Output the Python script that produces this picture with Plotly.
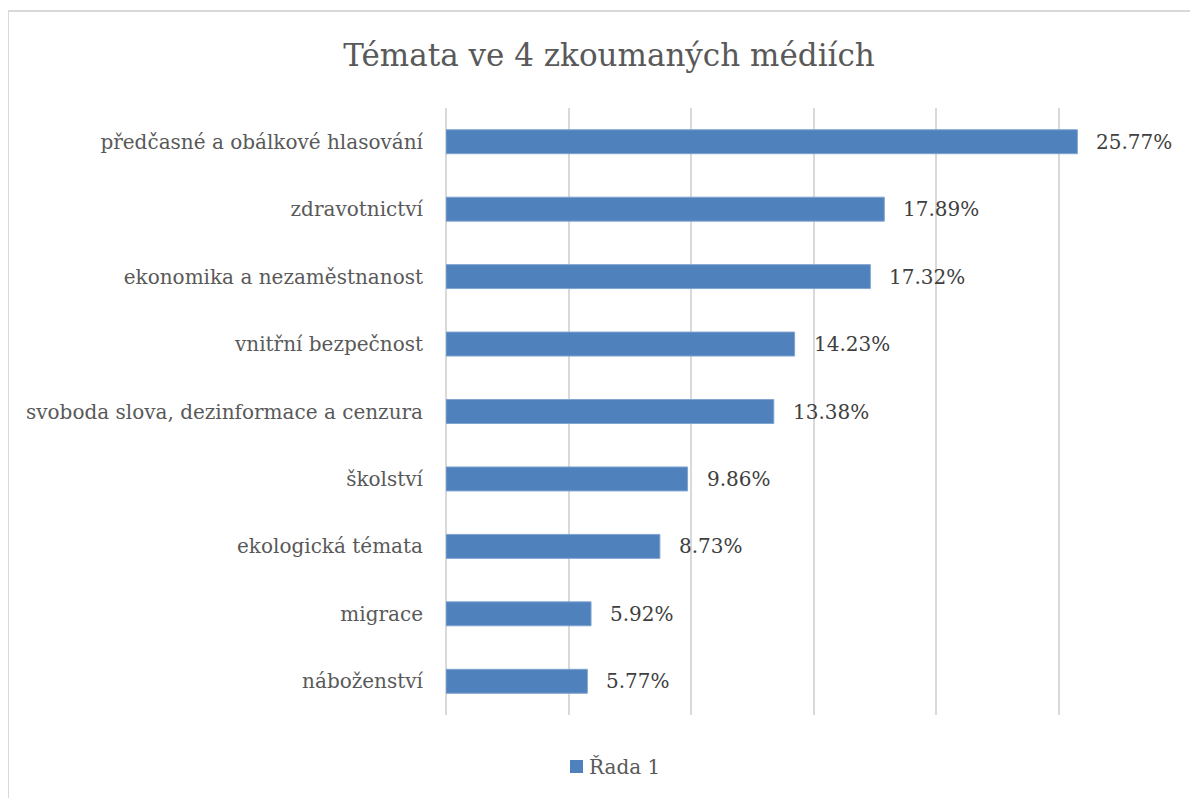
import plotly.graph_objects as go

categories = [
    "předčasné a obálkové hlasování",
    "zdravotnictví",
    "ekonomika a nezaměstnanost",
    "vnitřní bezpečnost",
    "svoboda slova, dezinformace a cenzura",
    "školství",
    "ekologická témata",
    "migrace",
    "náboženství",
]
values = [25.77, 17.89, 17.32, 14.23, 13.38, 9.86, 8.73, 5.92, 5.77]
series_name = "Řada 1"
title_text = "Témata ve 4 zkoumaných médiích"

# page has an 8px body margin, so figure coords = screenshot coords - 8
W, H = 1190, 790
L, R, T, B = 438, 17, 100, 83
FONT = "'DejaVu Serif', serif"
TXT = "#595959"
BAR = "#4F81BD"

pw = W - L - R
ph = H - T - B


def px(fx):
    return (fx - L) / pw


def py(fy):
    return (H - B - fy) / ph


fig = go.Figure()
fig.add_trace(go.Bar(
    x=values, y=categories, orientation="h", name=series_name,
    marker=dict(color=BAR, line=dict(color="#7fa3d0", width=1)),
    showlegend=False,
))

for v, c in zip(values, categories):
    fig.add_annotation(x=v, y=c, xref="x", yref="y", text=f"{v:.2f}%",
                       showarrow=False, xanchor="left", xshift=17,
                       font=dict(family=FONT, size=20, color="#404040"))

# chart frame
fig.add_shape(type="rect", xref="paper", yref="paper",
              x0=px(0), x1=px(W + 20), y0=py(H + 20), y1=py(3),
              line=dict(color="#d9d9d9", width=2), fillcolor="rgba(0,0,0,0)", layer="below")

# legend (custom, to match spacing)
fig.add_shape(type="rect", xref="paper", yref="paper",
              x0=px(562), x1=px(575), y0=py(765), y1=py(752),
              line=dict(width=0), fillcolor=BAR)
fig.add_annotation(xref="paper", yref="paper", x=px(579), y=py(759),
                   text=series_name, showarrow=False, xanchor="left", yanchor="middle",
                   font=dict(family=FONT, size=20, color=TXT))

fig.update_layout(
    width=W, height=H,
    margin=dict(l=L, r=R, t=T, b=B),
    paper_bgcolor="white", plot_bgcolor="white",
    title=dict(text=title_text, xref="container", yref="container",
               x=601 / W, y=1 - 47 / H, xanchor="center", yanchor="middle",
               font=dict(family=FONT, size=31, color=TXT)),
    bargap=0.645,
    showlegend=False,
    xaxis=dict(range=[0, 30], dtick=5, showticklabels=False, showgrid=True,
               gridcolor="#d9d9d9", gridwidth=2, zeroline=True, zerolinecolor="#d9d9d9",
               zerolinewidth=2, showline=False, fixedrange=True),
    yaxis=dict(categoryorder="array", categoryarray=categories, autorange="reversed",
               showgrid=False, showline=False, ticks="", ticklabelstandoff=22,
               tickfont=dict(family=FONT, size=20, color=TXT)),
    font=dict(family=FONT, color=TXT),
)

fig.write_html("out.html")
